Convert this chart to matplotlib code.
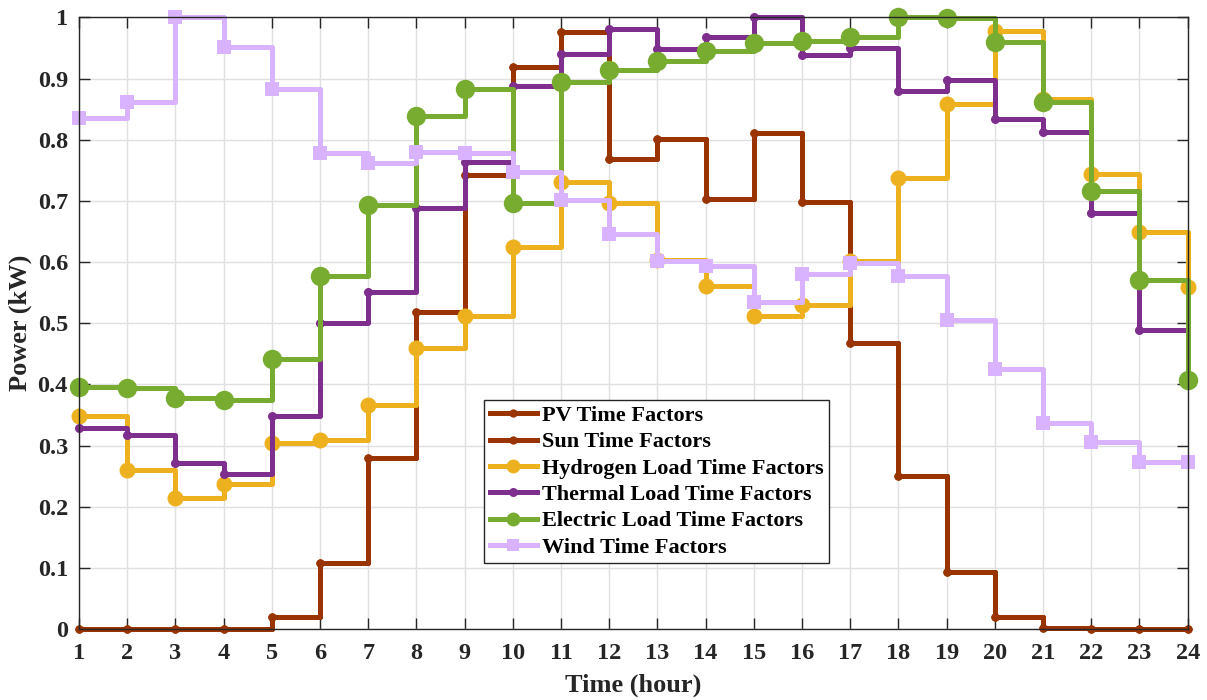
import matplotlib
matplotlib.use("Agg")
import matplotlib.pyplot as plt

plt.rcParams['font.family'] = ['Liberation Serif', 'DejaVu Serif']
plt.rcParams['font.weight'] = 'bold'

hours = list(range(1, 25))

pv_factors = [0.0, 0.0, 0.0, 0.0, 0.020, 0.108, 0.279, 0.519, 0.742, 0.919,
              0.977, 0.768, 0.801, 0.704, 0.811, 0.699, 0.467, 0.251, 0.094,
              0.019, 0.002, 0.0, 0.0, 0.0]
sun_factors = [0.0, 0.0, 0.0, 0.0, 0.020, 0.108, 0.279, 0.519, 0.742, 0.919,
               0.977, 0.768, 0.801, 0.704, 0.811, 0.699, 0.467, 0.251, 0.094,
               0.019, 0.002, 0.0, 0.0, 0.0]
hydrogen_load = [0.348, 0.260, 0.215, 0.237, 0.304, 0.309, 0.366, 0.459, 0.512,
                 0.625, 0.731, 0.696, 0.604, 0.561, 0.512, 0.530, 0.602, 0.737,
                 0.858, 0.978, 0.866, 0.744, 0.649, 0.559]
thermal_load = [0.328, 0.318, 0.272, 0.253, 0.348, 0.500, 0.551, 0.688, 0.763,
                0.888, 0.941, 0.982, 0.948, 0.968, 1.000, 0.939, 0.950, 0.880,
                0.898, 0.834, 0.813, 0.681, 0.489, 0.415]
electric_load = [0.395, 0.394, 0.377, 0.374, 0.441, 0.577, 0.693, 0.839, 0.883,
                 0.697, 0.895, 0.914, 0.929, 0.945, 0.958, 0.962, 0.968, 1.000,
                 0.999, 0.960, 0.862, 0.717, 0.571, 0.407]
wind_factors = [0.835, 0.862, 1.000, 0.952, 0.883, 0.778, 0.762, 0.780, 0.779,
                0.748, 0.702, 0.646, 0.601, 0.594, 0.534, 0.581, 0.598, 0.577,
                0.506, 0.426, 0.337, 0.306, 0.273, 0.273]

# label, values, colour, marker, marker size (plot), marker size (legend)
series = [
    ('PV Time Factors', pv_factors, '#993300', 'o', 6, 6),
    ('Sun Time Factors', sun_factors, '#993300', 'o', 6, 6),
    ('Hydrogen Load Time Factors', hydrogen_load, '#EDB120', 'o', 11.5, 10),
    ('Thermal Load Time Factors', thermal_load, '#7E2F8E', 'o', 6.5, 6.5),
    ('Electric Load Time Factors', electric_load, '#77AC30', 'o', 14, 10),
    ('Wind Time Factors', wind_factors, '#D9B3FF', 's', 10, 8.5),
]

fig = plt.figure(figsize=(12.07, 7.0), dpi=100)
ax = fig.add_axes([0.0655, 0.1014, 0.9185, 0.8736])

for label, vals, color, marker, ms, _ in series:
    ax.plot(hours, vals, drawstyle='steps-post', color=color, lw=3.6,
            marker=marker, markersize=ms, markeredgewidth=0,
            label=label, clip_on=False)

ax.set_xlim(1, 24)
ax.set_ylim(0, 1)
ax.set_xticks(hours)
ax.set_yticks([0, 0.1, 0.2, 0.3, 0.4, 0.5, 0.6, 0.7, 0.8, 0.9, 1])
ax.set_yticklabels(['0', '0.1', '0.2', '0.3', '0.4', '0.5', '0.6', '0.7',
                    '0.8', '0.9', '1'])
ax.tick_params(direction='in', top=True, right=True, length=8, width=1,
               labelsize=17.5, colors='#262626')
ax.tick_params(axis='x', pad=10)
ax.tick_params(axis='y', pad=8)
for s in ax.spines.values():
    s.set_color('#262626')
    s.set_linewidth(1)
ax.grid(True, color='#e0e0e0', lw=1)
ax.set_axisbelow(True)

ax.set_xlabel('Time (hour)', fontsize=19, fontweight='bold', labelpad=7,
              color='#262626')
ax.set_ylabel('Power (kW)', fontsize=19, fontweight='bold', labelpad=4,
              color='#262626')

leg = ax.legend(loc='upper left', bbox_to_anchor=(0.3656, 0.3745),
                fontsize=16, frameon=True, fancybox=False, edgecolor='#262626',
                framealpha=1, handlelength=2.1, handletextpad=0.25,
                labelspacing=0.26, borderpad=0.25, borderaxespad=0)
leg.get_frame().set_linewidth(1)
for handle, entry in zip(leg.legend_handles, series):
    handle.set_markersize(entry[5])

fig.savefig('out.png', dpi=100)
